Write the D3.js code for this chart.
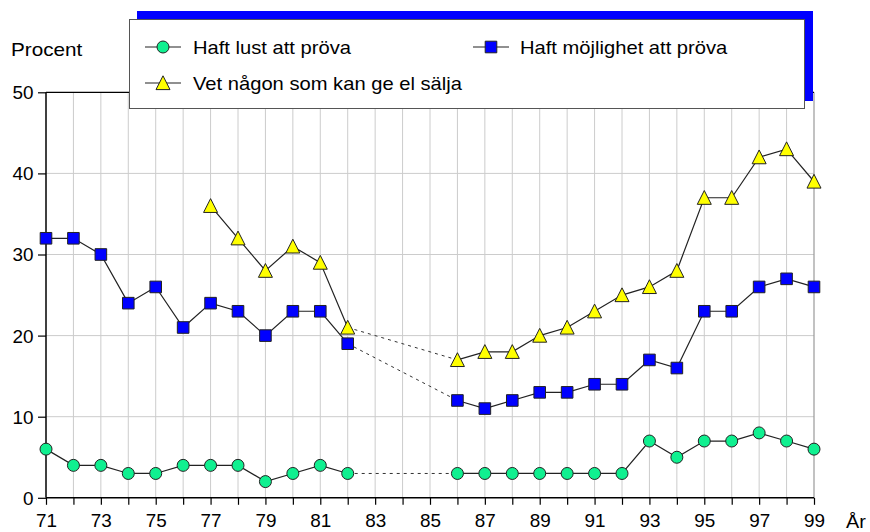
<!DOCTYPE html>
<html>
<head>
<meta charset="utf-8">
<script src="https://cdn.jsdelivr.net/npm/d3@7"></script>
<style>
  body { margin: 0; background: #fff; }
  text { font-family: "Liberation Sans", Arial, sans-serif; fill: #000; }
</style>
</head>
<body>
<div id="chart"></div>
<script>
const years = d3.range(71, 100);
const xTickLabels = d3.range(71, 100, 2);
const yTicks = [0, 10, 20, 30, 40, 50];

// null = no survey that year
const lust = [6, 4, 4, 3, 3, 4, 4, 4, 2, 3, 4, 3, null, null, null, 3, 3, 3, 3, 3, 3, 3, 7, 5, 7, 7, 8, 7, 6];
const mojlighet = [32, 32, 30, 24, 26, 21, 24, 23, 20, 23, 23, 19, null, null, null, 12, 11, 12, 13, 13, 14, 14, 17, 16, 23, 23, 26, 27, 26];
const vetNagon = [null, null, null, null, null, null, 36, 32, 28, 31, 29, 21, null, null, null, 17, 18, 18, 20, 21, 23, 25, 26, 28, 37, 37, 42, 43, 39];

const seriesNames = ["Haft lust att pröva", "Haft möjlighet att pröva", "Vet någon som kan ge el sälja"];

const W = 870, H = 532;
const FS = "18px";
const svg = d3.select("#chart").append("svg").attr("width", W).attr("height", H);

const x = d3.scaleLinear().domain([71, 99]).range([46, 814]);
const y = d3.scaleLinear().domain([0, 50]).range([497.8, 92.3]);

// text a bit wider than plain Arial, like the original
function label(sel, tx, ty, str, sx) {
  return sel.append("text").attr("transform", `translate(${tx},${ty}) scale(${sx || 1.12},1)`)
    .style("font-size", FS).text(str);
}

// grid
svg.append("g").selectAll("line").data(years.filter(d => d > 71 && d < 99)).enter().append("line")
  .attr("x1", d => x(d)).attr("x2", d => x(d)).attr("y1", y(50)).attr("y2", y(0))
  .attr("stroke", "#cccccc").attr("stroke-width", 1);
svg.append("g").selectAll("line").data([10, 20, 30, 40]).enter().append("line")
  .attr("x1", x(71)).attr("x2", x(99)).attr("y1", d => y(d)).attr("y2", d => y(d))
  .attr("stroke", "#cccccc").attr("stroke-width", 1);

// frame
svg.append("line").attr("x1", x(99)).attr("x2", x(99)).attr("y1", y(50)).attr("y2", y(0)).attr("stroke", "#999").attr("stroke-width", 1.2);
svg.append("line").attr("x1", x(71)).attr("x2", x(99)).attr("y1", y(50)).attr("y2", y(50)).attr("stroke", "#000").attr("stroke-width", 1.2);

// axes
const yAxis = svg.append("g").attr("transform", `translate(${x(71)},0)`)
  .call(d3.axisLeft(y).tickValues(yTicks).tickSize(8).tickPadding(4));
const xAxis = svg.append("g").attr("transform", `translate(0,${y(0)})`)
  .call(d3.axisBottom(x).tickValues(years).tickSize(7).tickPadding(9)
    .tickFormat(d => xTickLabels.includes(d) ? d : ""));
[yAxis, xAxis].forEach(a => {
  a.select(".domain").attr("stroke", "#000").attr("stroke-width", 1.5);
  a.selectAll(".tick line").attr("stroke", "#000").attr("stroke-width", 1.2);
  a.selectAll("text").style("font-family", "'Liberation Sans', Arial, sans-serif").style("font-size", FS)
    .attr("fill", "#000").attr("transform", "scale(1.05,1)");
});
yAxis.select(".domain").attr("d", `M0,${y(0)}V${y(50)}`);
xAxis.select(".domain").attr("d", `M${x(71)},0H${x(99)}`);
yAxis.selectAll(".tick text").attr("dy", "0.36em");

label(svg, 11, 56, "Procent", 1.15);
label(svg, 846, 528, "År", 1.1);

// lines
const allSeries = [
  { name: seriesNames[0], values: lust, shape: "circle", fill: "#10f090" },
  { name: seriesNames[1], values: mojlighet, shape: "square", fill: "#0000ff" },
  { name: seriesNames[2], values: vetNagon, shape: "triangle", fill: "#ffff00" }
];

const line = d3.line().defined(d => d.v != null).x(d => x(d.yr)).y(d => y(d.v));

const markerPath = {
  circle: d3.symbol().type(d3.symbolCircle).size(Math.PI * 36)(),
  square: "M-5.8,-5.8H5.8V5.8H-5.8Z",
  triangle: "M0,-7.2L7,6.6H-7Z"
};

allSeries.forEach(s => {
  const pts = years.map((yr, i) => ({ yr, v: s.values[i] }));
  svg.append("path").datum(pts).attr("fill", "none").attr("stroke", "#222").attr("stroke-width", 1.2).attr("d", line);
  // dotted bridge across the gap
  const before = pts.find(p => p.yr === 82), after = pts.find(p => p.yr === 86);
  svg.append("path").datum([before, after]).attr("fill", "none").attr("stroke", "#333")
    .attr("stroke-width", 1).attr("stroke-dasharray", "3,4").attr("d", line);
});

allSeries.forEach(s => {
  const pts = years.map((yr, i) => ({ yr, v: s.values[i] })).filter(p => p.v != null);
  svg.append("g").selectAll("path").data(pts).enter().append("path")
    .attr("transform", d => `translate(${x(d.yr)},${y(d.v)})`)
    .attr("d", markerPath[s.shape]).attr("fill", s.fill).attr("stroke", "#222").attr("stroke-width", 1);
});

// legend
svg.append("rect").attr("x", 137).attr("y", 11).attr("width", 676).attr("height", 90).attr("fill", "#0000ff");
svg.append("rect").attr("x", 129.5).attr("y", 19.5).attr("width", 675).attr("height", 89).attr("fill", "#fff").attr("stroke", "#555").attr("stroke-width", 1);

const legendPos = [
  { sx: 145, tx: 193, cy: 47 },
  { sx: 473, tx: 520, cy: 47 },
  { sx: 145, tx: 193, cy: 83 }
];
allSeries.forEach((s, i) => {
  const p = legendPos[i];
  const g = svg.append("g");
  g.append("line").attr("x1", p.sx).attr("x2", p.sx + 36).attr("y1", p.cy).attr("y2", p.cy).attr("stroke", "#222").attr("stroke-width", 1.2);
  g.append("path").attr("transform", `translate(${p.sx + 18},${p.cy})`).attr("d", markerPath[s.shape])
    .attr("fill", s.fill).attr("stroke", "#222").attr("stroke-width", 1);
  label(g, p.tx, p.cy + 6.5, s.name, 1.12);
});
</script>
</body>
</html>
